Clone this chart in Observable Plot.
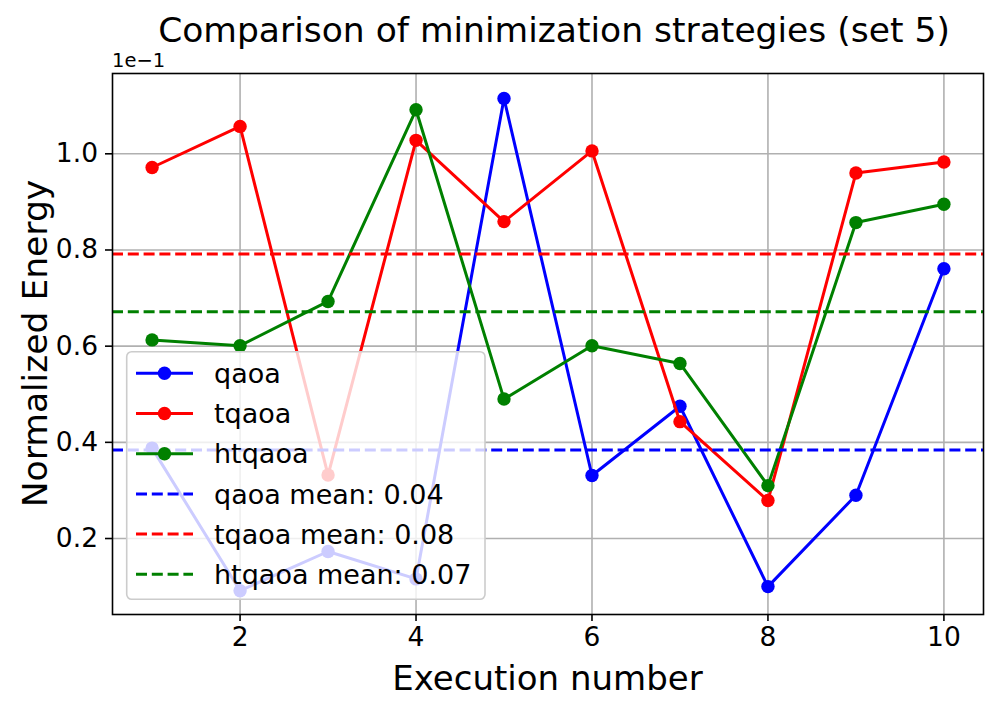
<!DOCTYPE html>
<html>
<head>
<meta charset="utf-8">
<script src="https://cdn.jsdelivr.net/npm/d3@7"></script>
<script src="https://cdn.jsdelivr.net/npm/@observablehq/plot@0.6"></script>
<style>
  html, body { margin: 0; padding: 0; background: #fff; }
  svg { font-family: "DejaVu Sans", sans-serif; }
</style>
</head>
<body>
<div id="chart"></div>
<script>
const executions = [1, 2, 3, 4, 5, 6, 7, 8, 9, 10];
const qaoa   = [0.0388, 0.00915, 0.0173, 0.0116, 0.1115, 0.0331, 0.0475, 0.0100, 0.0290, 0.0761];
const tqaoa  = [0.09715, 0.1057, 0.0332, 0.1028, 0.0859, 0.1006, 0.0443, 0.0279, 0.0960, 0.0983];
const htqaoa = [0.0613, 0.0601, 0.0693, 0.10915, 0.0490, 0.0601, 0.0564, 0.0310, 0.0857, 0.0895];
const seriesNames = ["qaoa", "tqaoa", "htqaoa"];
const seriesColors = ["blue", "red", "green"];
const xTicks = [2, 4, 6, 8, 10];
const yTicks = [0.02, 0.04, 0.06, 0.08, 0.10];
const titleText = "Comparison of minimization strategies (set 5)";
const xLabel = "Execution number";
const yLabel = "Normalized Energy";
const offsetText = "1e\u22121";

const seriesValues = [qaoa, tqaoa, htqaoa];
const rows = seriesNames.flatMap((name, i) =>
  executions.map((x, j) => ({series: name, x, y: seriesValues[i][j]})));
const means = seriesNames.map((name, i) => ({series: name, mean: d3.mean(seriesValues[i]), color: seriesColors[i]}));

const W = 997, H = 710;
const mL = 112, mR = 14, mT = 73, mB = 96;
const tickFont = 26.5;

const lineMarks = seriesNames.flatMap((name, i) => {
  const d = rows.filter(r => r.series === name);
  return [
    Plot.line(d, {x: "x", y: "y", stroke: seriesColors[i], strokeWidth: 3}),
    Plot.dot(d, {x: "x", y: "y", fill: seriesColors[i], r: 6.7, stroke: "none"})
  ];
});

const plot = Plot.plot({
  width: W, height: H,
  marginLeft: mL, marginRight: mR, marginTop: mT, marginBottom: mB,
  style: {fontFamily: "DejaVu Sans", background: "white", overflow: "visible", color: "black"},
  x: {domain: [0.55, 10.45]},
  y: {domain: [0.0042, 0.1167]},
  marks: [
    Plot.gridX(xTicks, {stroke: "#b0b0b0", strokeOpacity: 1, strokeWidth: 1.6}),
    Plot.gridY(yTicks, {stroke: "#b0b0b0", strokeOpacity: 1, strokeWidth: 1.6}),
    ...lineMarks,
    Plot.ruleY(means, {y: "mean", stroke: "color", strokeWidth: 3, strokeDasharray: "11,4.8"}),
    Plot.axisX(xTicks, {tickSize: 7, tickFormat: () => "", label: null, stroke: "black", strokeWidth: 1.6}),
    Plot.axisY(yTicks, {tickSize: 7, tickFormat: () => "", label: null, stroke: "black", strokeWidth: 1.6}),
    Plot.text(xTicks, {x: d => d, text: d => String(d), frameAnchor: "bottom", lineAnchor: "top", dy: 13, fontSize: tickFont, fill: "black"}),
    Plot.text(yTicks, {y: d => d, text: d => (d * 10).toFixed(1), frameAnchor: "left", textAnchor: "end", dx: -14.5, fontSize: tickFont, fill: "black"}),
    Plot.frame({stroke: "black", strokeWidth: 1.6})
  ]
});

document.getElementById("chart").appendChild(plot);
const svg = d3.select(plot);
const font = "DejaVu Sans";

// title
svg.append("text").attr("x", 554).attr("y", 42)
  .attr("text-anchor", "middle").attr("font-size", 34.5).attr("font-family", font)
  .attr("fill", "black").text(titleText);
// offset text
svg.append("text").attr("x", mL).attr("y", 67).attr("text-anchor", "start")
  .attr("font-size", 19.5).attr("font-family", font).attr("fill", "black").text(offsetText);
// x label
svg.append("text").attr("x", mL + (W - mL - mR) / 2).attr("y", 690)
  .attr("text-anchor", "middle").attr("font-size", 34).attr("font-family", font)
  .attr("fill", "black").text(xLabel);
// y label
svg.append("text").attr("transform", `translate(47,${mT + (H - mT - mB) / 2}) rotate(-90)`)
  .attr("text-anchor", "middle").attr("font-size", 34.5).attr("font-family", font)
  .attr("fill", "black").text(yLabel);

// legend
const lg = svg.append("g").attr("text-anchor", "start");
const lx = mL + 14.7, ly = 351.7, lw = 358.3, lh = 247.6;
lg.append("rect").attr("x", lx).attr("y", ly).attr("width", lw).attr("height", lh)
  .attr("rx", 5).attr("fill", "white").attr("fill-opacity", 0.8)
  .attr("stroke", "#cccccc").attr("stroke-width", 1.6);
const entries = [
  ...seriesNames.map((n, i) => ({label: n, color: seriesColors[i], dashed: false})),
  ...means.map(m => ({label: `${m.series} mean: ${m.mean.toFixed(2)}`, color: m.color, dashed: true}))
];
entries.forEach((e, i) => {
  const cy = 373.3 + i * 40.2;
  lg.append("line").attr("x1", lx + 9.3).attr("x2", lx + 66.3).attr("y1", cy).attr("y2", cy)
    .attr("stroke", e.color).attr("stroke-width", 3)
    .attr("stroke-dasharray", e.dashed ? "11,4.8" : null);
  if (!e.dashed) lg.append("circle").attr("cx", lx + 37.8).attr("cy", cy).attr("r", 6.7).attr("fill", e.color);
  lg.append("text").attr("x", lx + 87.3).attr("y", cy).attr("dy", "0.36em").attr("text-anchor", "start")
    .attr("font-size", 27).attr("font-family", font).attr("fill", "black").text(e.label);
});
</script>
</body>
</html>
